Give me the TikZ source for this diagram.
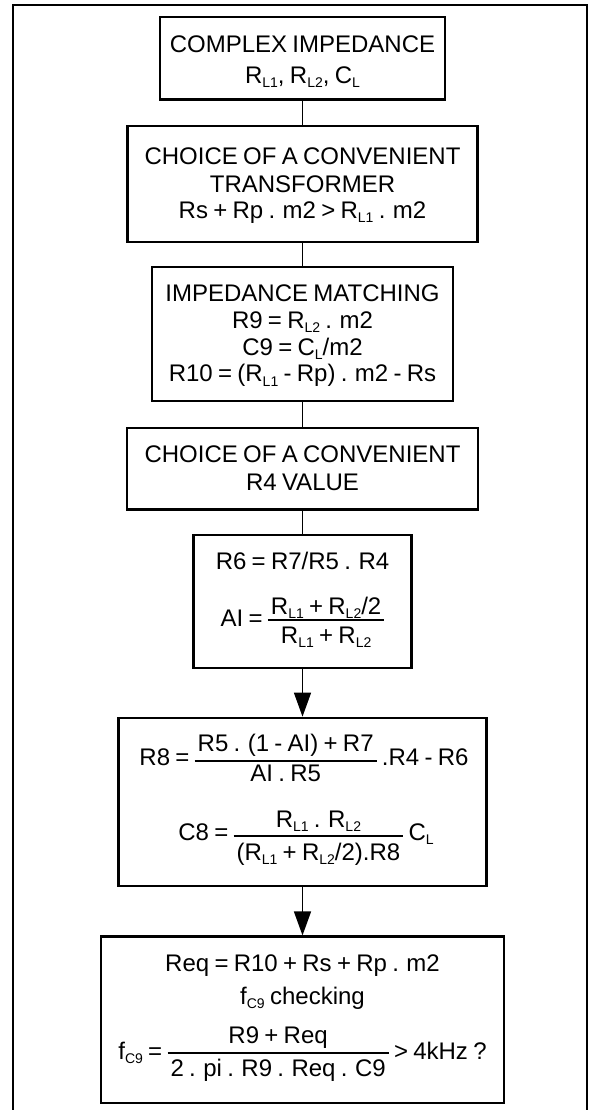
\documentclass[tikz,border=0pt]{standalone}
\usepackage{fontspec}
\setmainfont{Liberation Sans}
\usetikzlibrary{arrows.meta}
\newsavebox\frcn
\newsavebox\frcd
\newdimen\frcw
\newcommand\sbs[1]{\raisebox{-4.5pt}{\fontsize{14}{14}\selectfont #1}}
% #1 rule raise, #2 numerator raise, #3 denominator lowering, #4 numerator, #5 denominator
\newcommand\frc[5]{\begingroup
\sbox\frcn{#4}\sbox\frcd{#5}%
\frcw=\wd\frcn \ifdim\wd\frcd>\frcw \frcw=\wd\frcd\fi
\advance\frcw by 6pt
\rlap{\raisebox{#2}{\hbox to\frcw{\hss\usebox\frcn\hss}}}%
\rlap{\raisebox{-#3}{\hbox to\frcw{\hss\usebox\frcd\hss}}}%
\raisebox{#1}{\rule{\frcw}{1.7pt}}%
\endgroup}
\newcommand\txtfont{\fontsize{24}{28}\selectfont\spaceskip=0.22em plus 0.05em minus 0.05em\relax}
\begin{document}
\begin{tikzpicture}[x=1pt,y=-1pt,
  box/.style={draw, line width=2.7pt, inner sep=0pt},
  boxthin/.style={draw, line width=2.1pt, inner sep=0pt},
  txt/.style={inner sep=0pt, anchor=base, font=\txtfont},
  conn/.style={line width=1.3pt},
  tip/.style={-{Triangle[width=17pt,length=24pt]}}]
\useasboundingbox (0,0) rectangle (595,1110);
% outer frame
\draw[line width=2pt] (13,1110) -- (13,5) -- (587,5) -- (587,1110);
% boxes
\node[box, minimum width=285pt, minimum height=82.5pt] (b1) at (302.5,58.25) {};
\node[box, minimum width=350pt, minimum height=116pt] (b2) at (302.5,184) {};
\node[boxthin, minimum width=301pt, minimum height=134pt] (b3) at (302.5,334.4) {};
\node[box, minimum width=351pt, minimum height=81.5pt] (b4) at (302.5,468.75) {};
\node[box, minimum width=218pt, minimum height=133pt] (b5) at (302.5,601.5) {};
\node[box, minimum width=368pt, minimum height=168pt] (b6) at (302.5,802) {};
\node[boxthin, minimum width=403pt, minimum height=166.5pt] (b7) at (302.5,1019.75) {};
% texts
\node[txt] (b1a) at (302.5,52.7) {COMPLEX IMPEDANCE};
\node[txt] (b1b) at (302.5,83.5) {R\sbs{L1}, R\sbs{L2}, C\sbs{L}};
\node[txt] (b2a) at (302.5,165) {CHOICE OF A CONVENIENT};
\node[txt] (b2b) at (302.5,192.7) {TRANSFORMER};
\node[txt] (b2c) at (302.5,218.5) {Rs + Rp . m2 > R\sbs{L1} . m2};
\node[txt] (b3a) at (302.5,301.7) {IMPEDANCE MATCHING};
\node[txt] (b3b) at (302.5,328.3) {R9 = R\sbs{L2} . m2};
\node[txt] (b3c) at (302.5,355) {C9 = C\sbs{L}/m2};
\node[txt] (b3d) at (302.5,381.7) {R10 = (R\sbs{L1} - Rp) . m2 - Rs};
\node[txt] (b4a) at (302.5,462.7) {CHOICE OF A CONVENIENT};
\node[txt] (b4b) at (302.5,490) {R4 VALUE};
\node[txt] (b5a) at (302.5,569.3) {R6 = R7/R5 . R4};
\node[txt] (b5b) at (302.5,626.7) {AI = \frc{6.15pt}{12.5pt}{16.5pt}{R\sbs{L1} + R\sbs{L2}/2}{R\sbs{L1} + R\sbs{L2}}};
\node[txt] (b6a) at (304,765) {R8 = \frc{3.15pt}{13.3pt}{16.7pt}{R5 . (1 - AI) + R7}{AI . R5} .R4 - R6};
\node[txt] (b6b) at (306,840) {C8 = \frc{3.15pt}{12.7pt}{20pt}{R\sbs{L1} . R\sbs{L2}}{(R\sbs{L1} + R\sbs{L2}/2).R8} C\sbs{L}};
\node[txt] (b7a) at (302.5,971.7) {Req = R10 + Rs + Rp . m2};
\node[txt] (b7b) at (302.5,1004) {f\sbs{C9} checking};
\node[txt] (b7c) at (302.5,1059.3) {f\sbs{C9} = \frc{5.75pt}{16pt}{17.4pt}{R9 + Req}{2 . pi . R9 . Req . C9} > 4kHz ?};
% connectors
\draw[conn] (b1.south) -- (b2.north);
\draw[conn] (b2.south) -- (b3.north);
\draw[conn] (b3.south) -- (b4.north);
\draw[conn] (b4.south) -- (b5.north);
\draw[conn, tip] (b5.south) -- (b6.north);
\draw[conn, tip] (b6.south) -- (b7.north);
\end{tikzpicture}
\end{document}
